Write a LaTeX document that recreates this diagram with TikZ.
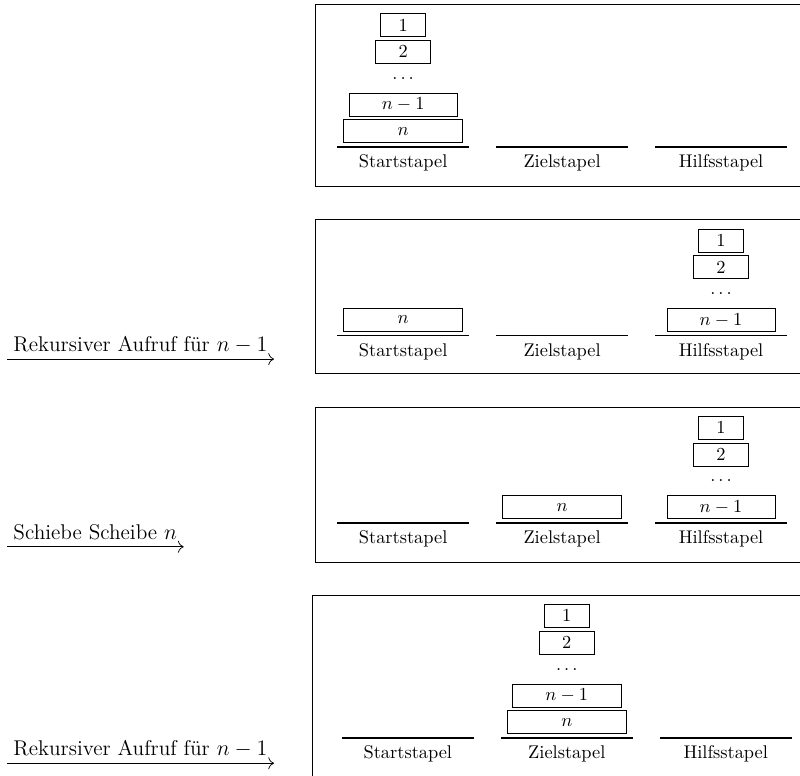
\documentclass[tikz,border=0pt]{standalone}
\usepackage{fontspec}
\usetikzlibrary{arrows.meta}

\tikzset{
  scheibe/.style={draw, minimum height=0.44cm, inner sep=0pt},
  boden/.style={thick},
  stapelname/.style={inner sep=0pt},
  pfeiltext/.style={anchor=base west, text depth=0pt, inner xsep=0.12cm, inner ysep=0.14cm,
    font=\fontsize{11.6}{14}\selectfont},
  pfeil/.style={-{Computer Modern Rightarrow[scale=1.25]}},
}

\begin{document}
\begin{tikzpicture}
\useasboundingbox (0,0) rectangle (15.30,-14.84);

% Rahmen der vier Zustaende
\draw (6.04,-0.08) rectangle (16,-3.56);
\draw (6.04,-4.19) rectangle (16,-7.15);
\draw (6.04,-7.80) rectangle (16,-10.76);
\draw (5.97,-11.38) rectangle (16,-14.90);

% Boden und Namen der drei Stapel
\foreach \y/\dx/\p in {-2.81/0/a, -6.42/0/b, -10.00/0/c, -14.11/0.09/d} {
  \draw[boden] ({6.45+\dx},\y) -- ({8.97+\dx},\y);
  \draw[boden] ({9.49+\dx},\y) -- ({12.01+\dx},\y);
  \draw[boden] ({12.53+\dx},\y) -- ({15.05+\dx},\y);
  \node[stapelname] (\p-start) at ({7.71+\dx},{\y-0.31}) {Startstapel};
  \node[stapelname] (\p-ziel) at ({10.75+\dx},{\y-0.31}) {Zielstapel};
  \node[stapelname] (\p-hilf) at ({13.79+\dx},{\y-0.31}) {Hilfsstapel};
}

% Zustand 1: alles auf dem Startstapel
\node[scheibe, minimum width=2.28cm] (a-n) at (7.71,-2.51) {$n$};
\node[scheibe, minimum width=2.07cm] (a-n1) at (7.71,-2.00) {$n-1$};
\node (a-dots) at (7.71,-1.50) {$\dots$};
\node[scheibe, minimum width=1.05cm] (a-2) at (7.71,-0.99) {$2$};
\node[scheibe, minimum width=0.86cm] (a-1) at (7.71,-0.48) {$1$};

% Zustand 2
\node[pfeiltext] (pfeil-b) at (0.13,-6.72) {Rekursiver Aufruf für $n-1$};
\draw[pfeil] (pfeil-b.south west) -- (pfeil-b.south east);
\node[scheibe, minimum width=2.28cm] (b-n) at (7.71,-6.12) {$n$};
\node[scheibe, minimum width=2.07cm] (b-n1) at (13.79,-6.12) {$n-1$};
\node (b-dots) at (13.79,-5.61) {$\dots$};
\node[scheibe, minimum width=1.05cm] (b-2) at (13.79,-5.11) {$2$};
\node[scheibe, minimum width=0.86cm] (b-1) at (13.79,-4.60) {$1$};

% Zustand 3
\node[pfeiltext] (pfeil-c) at (0.13,-10.31) {Schiebe Scheibe $n$};
\draw[pfeil] (pfeil-c.south west) -- (pfeil-c.south east);
\node[scheibe, minimum width=2.28cm] (c-n) at (10.75,-9.70) {$n$};
\node[scheibe, minimum width=2.07cm] (c-n1) at (13.79,-9.70) {$n-1$};
\node (c-dots) at (13.79,-9.19) {$\dots$};
\node[scheibe, minimum width=1.05cm] (c-2) at (13.79,-8.69) {$2$};
\node[scheibe, minimum width=0.86cm] (c-1) at (13.79,-8.18) {$1$};

% Zustand 4: alles auf dem Zielstapel
\node[pfeiltext] (pfeil-d) at (0.13,-14.45) {Rekursiver Aufruf für $n-1$};
\draw[pfeil] (pfeil-d.south west) -- (pfeil-d.south east);
\node[scheibe, minimum width=2.28cm] (d-n) at (10.84,-13.81) {$n$};
\node[scheibe, minimum width=2.07cm] (d-n1) at (10.84,-13.30) {$n-1$};
\node (d-dots) at (10.84,-12.80) {$\dots$};
\node[scheibe, minimum width=1.05cm] (d-2) at (10.84,-12.29) {$2$};
\node[scheibe, minimum width=0.86cm] (d-1) at (10.84,-11.78) {$1$};
\end{tikzpicture}
\end{document}
